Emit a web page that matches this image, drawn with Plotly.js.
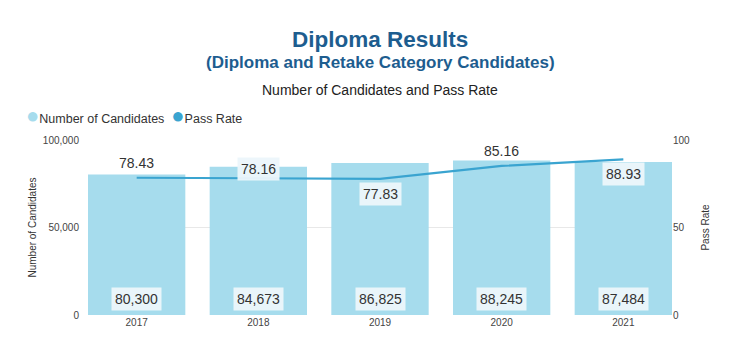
<!DOCTYPE html>
<html><head><meta charset="utf-8">
<script src="https://cdn.plot.ly/plotly-3.0.1.min.js"></script>
<style>html,body{margin:0;padding:0;background:#fff}#c{width:736px;height:353px}</style>
</head><body><div id="c"></div>
<script>
const years = ['2017','2018','2019','2020','2021'];
const candidates = [80300, 84673, 86825, 88245, 87484];
const passRate = [78.43, 78.16, 77.83, 85.16, 88.93];
const candLabels = ['80,300','84,673','86,825','88,245','87,484'];
const rateLabelAbove = [true, true, false, true, false];
const seriesNames = ['Number of Candidates', 'Pass Rate'];

const barColor = '#a6dced';
const lineColor = '#3aa4d0';
const labelBg = 'rgba(236,246,251,0.95)';
const rateLabelShift = [3, -3, -3, 3, -3];

const traces = [
  {type:'bar', x:years, y:candidates, name:seriesNames[0], marker:{color:barColor}, showlegend:false, hoverinfo:'skip'},
  {type:'scatter', mode:'lines', x:years, y:passRate, name:seriesNames[1], yaxis:'y2', line:{color:lineColor, width:2.2}, showlegend:false}
];

const F = 'Liberation Sans, Arial';
const dot = c => '<span style="font-size:22px;color:'+c+'">●</span>';
const annotations = [
  {text:'<b>Diploma Results</b>', xref:'paper', yref:'paper', x:0.5, y:1, yanchor:'bottom', xanchor:'center',
   yshift:86, showarrow:false, font:{size:22.5, color:'#1d5d8f', family:F}},
  {text:'<b>(Diploma and Retake Category Candidates)</b>', xref:'paper', yref:'paper', x:0.5, y:1, yanchor:'bottom', xanchor:'center',
   yshift:66, showarrow:false, font:{size:17, color:'#1d5d8f', family:F}},
  {text:'Number of Candidates and Pass Rate', xref:'paper', yref:'paper', x:0.5, y:1, yanchor:'bottom', xanchor:'center',
   yshift:40, showarrow:false, font:{size:14, color:'#222', family:F}},
  {text:dot(barColor)+seriesNames[0]+'  '+dot(lineColor)+seriesNames[1],
   xref:'paper', yref:'paper', x:0, y:1, xanchor:'left', yanchor:'bottom', xshift:-64, yshift:10, showarrow:false,
   font:{size:12.5, color:'#333', family:F}}
];
years.forEach((yr,i)=>{
  annotations.push({text:candLabels[i], x:i, y:0, xref:'x', yref:'y', yanchor:'bottom', yshift:4, showarrow:false,
    bgcolor:labelBg, borderpad:3, font:{size:14, color:'#333', family:F}});
  const above = rateLabelAbove[i];
  annotations.push({text:passRate[i].toFixed(2), x:i, y:passRate[i], xref:'x', yref:'y2',
    yanchor: above ? 'bottom':'top', yshift: rateLabelShift[i], showarrow:false,
    bgcolor: (i===0||i===3) ? 'rgba(255,255,255,0)' : labelBg, borderpad:3,
    font:{size:14, color:'#333', family:F}});
});

const layout = {
  width:736, height:353,
  margin:{l:88, r:64, t:140, b:38},
  paper_bgcolor:'#fff', plot_bgcolor:'#fff',
  font:{family:F, color:'#444', size:10},
  bargap:0.2,
  showlegend:false,
  xaxis:{type:'category', range:[-0.4,4.4], showgrid:false, zeroline:false, showline:false, ticks:'',
    tickfont:{size:10, color:'#444'}},
  yaxis:{range:[0,100000], tickvals:[0,50000,100000], ticktext:['0','50,000','100,000'], showgrid:true,
    gridcolor:'#e8e8e8', zeroline:false, showline:false, ticks:'', ticklabelstandoff:8, tickfont:{size:10, color:'#444'},
    title:{text:'Number of Candidates', font:{size:10, color:'#333'}, standoff:4}},
  yaxis2:{overlaying:'y', side:'right', range:[0,100], tickvals:[0,50,100], showgrid:false, zeroline:false,
    showline:false, tickfont:{size:10, color:'#444'},
    title:{text:'Pass Rate', font:{size:10, color:'#333'}, standoff:12}},
  annotations:annotations
};
Plotly.newPlot('c', traces, layout, {displayModeBar:false, staticPlot:true});
</script></body></html>
